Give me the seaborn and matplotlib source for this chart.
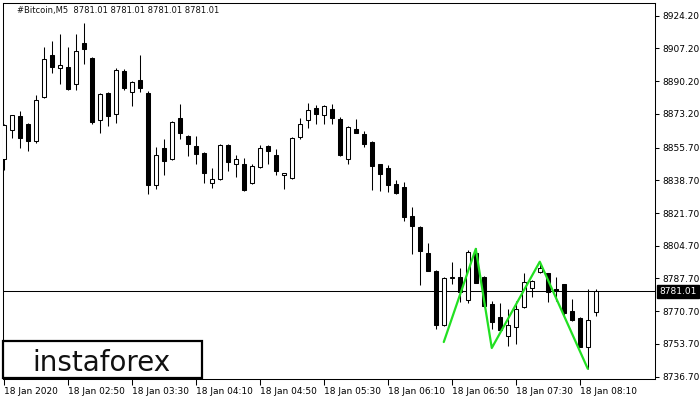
import matplotlib
matplotlib.use('Agg')
import matplotlib.pyplot as plt
from matplotlib.patches import Rectangle
import matplotlib.transforms as mtransforms
import numpy as np
import pandas as pd
import seaborn as sns

# M5 candles, 18 Jan 2020 02:10 .. 08:20
opens = [8849.5, 8865.0, 8872.2, 8868.1, 8859.3, 8882.0, 8903.6, 8896.9, 8897.4, 8888.6,
         8909.8, 8902.0, 8870.1, 8884.0, 8873.2, 8895.3, 8884.5, 8890.7, 8884.0, 8836.1,
         8855.7, 8849.5, 8871.1, 8861.9, 8856.7, 8853.1, 8837.1, 8839.2, 8857.2, 8847.4,
         8847.4, 8837.1, 8845.4, 8856.7, 8851.6, 8841.3, 8839.7, 8861.4, 8870.1, 8876.3,
         8872.7, 8875.8, 8870.6, 8850.0, 8865.5, 8862.9, 8858.8, 8846.9, 8844.9, 8836.6,
         8835.1, 8820.1, 8814.5, 8801.1, 8791.8, 8763.5, 8788.2, 8788.7, 8776.4, 8801.1,
         8788.7, 8774.3, 8767.6, 8757.8, 8762.4, 8772.7, 8782.5, 8791.3, 8790.3, 8782.0,
         8784.6, 8770.7, 8767.1, 8752.1, 8770.2]
highs = [8868.1, 8872.7, 8874.7, 8868.6, 8883.0, 8907.7, 8910.8, 8914.4, 8907.7, 8914.4,
         8920.6, 8902.6, 8884.0, 8884.5, 8897.0, 8896.5, 8890.0, 8903.6, 8885.0, 8856.2,
         8860.3, 8869.3, 8878.4, 8862.2, 8861.9, 8853.4, 8844.9, 8857.7, 8857.5, 8851.6,
         8850.5, 8847.4, 8857.2, 8857.0, 8854.7, 8842.5, 8861.4, 8871.1, 8878.9, 8877.8,
         8877.6, 8878.4, 8871.7, 8866.7, 8870.6, 8864.4, 8859.0, 8847.2, 8846.4, 8838.7,
         8837.7, 8824.8, 8814.7, 8806.2, 8792.0, 8788.7, 8796.4, 8793.4, 8802.6, 8803.7,
         8789.0, 8775.8, 8774.8, 8771.7, 8775.8, 8790.3, 8786.9, 8796.4, 8790.5, 8788.7,
         8784.9, 8776.9, 8767.6, 8782.0, 8782.0]
lows = [8843.8, 8860.8, 8855.2, 8854.1, 8858.3, 8881.5, 8894.3, 8888.6, 8885.8, 8885.5,
        8899.0, 8868.1, 8863.4, 8867.0, 8868.6, 8885.8, 8877.3, 8884.5, 8831.5, 8834.0,
        8841.3, 8849.2, 8860.3, 8851.1, 8847.4, 8837.1, 8834.6, 8838.9, 8843.3, 8840.2,
        8833.3, 8836.6, 8845.2, 8847.4, 8841.3, 8834.0, 8839.5, 8860.3, 8866.0, 8868.1,
        8868.1, 8868.1, 8851.3, 8847.4, 8863.2, 8856.2, 8833.5, 8833.0, 8832.5, 8831.5,
        8817.6, 8800.6, 8784.1, 8791.6, 8761.4, 8763.2, 8784.6, 8775.3, 8774.8, 8785.3,
        8772.8, 8761.4, 8760.6, 8752.6, 8753.7, 8772.5, 8777.9, 8790.8, 8775.3, 8775.8,
        8768.1, 8765.8, 8751.9, 8740.8, 8768.1]
closes = [8867.5, 8872.7, 8860.8, 8859.3, 8880.4, 8901.5, 8897.4, 8898.4, 8886.1, 8905.6,
          8906.7, 8869.1, 8883.5, 8872.2, 8895.9, 8886.6, 8889.7, 8886.6, 8836.1, 8851.6,
          8848.5, 8869.1, 8863.4, 8857.7, 8852.6, 8842.3, 8839.2, 8857.2, 8848.0, 8850.0,
          8833.5, 8845.9, 8855.7, 8854.1, 8843.3, 8842.3, 8860.8, 8868.1, 8875.3, 8873.2,
          8877.3, 8871.1, 8851.6, 8866.5, 8863.4, 8857.7, 8845.9, 8841.8, 8836.1, 8832.0,
          8819.6, 8815.0, 8802.1, 8791.8, 8763.5, 8787.7, 8788.7, 8780.5, 8801.6, 8785.6,
          8773.3, 8765.0, 8760.9, 8763.5, 8771.7, 8786.1, 8786.6, 8793.4, 8780.5, 8781.0,
          8769.7, 8766.0, 8752.1, 8766.0, 8781.01]

tick_bars = [0, 8, 16, 24, 32, 40, 48, 56, 64, 72]
tick_labels = ['18 Jan 2020', '18 Jan 02:50', '18 Jan 03:30', '18 Jan 04:10', '18 Jan 04:50',
               '18 Jan 05:30', '18 Jan 06:10', '18 Jan 06:50', '18 Jan 07:30', '18 Jan 08:10']
price_ticks = [8924.20, 8907.20, 8890.20, 8873.20, 8855.70, 8838.70,
               8821.70, 8804.70, 8787.70, 8770.70, 8753.70, 8736.70]

# triple-top / head-and-shoulders style pattern drawn by the analyst
pattern_bars = [55, 59, 61, 67, 73]
pattern_prices = [8754.7, 8803.1, 8751.6, 8796.4, 8740.8]

last_price = 8781.01

df = pd.DataFrame({'open': opens, 'high': highs, 'low': lows, 'close': closes})
df['bar'] = np.arange(len(df))
pat = pd.DataFrame({'bar': pattern_bars, 'price': pattern_prices})

sns.set_theme(style='white')
plt.rcParams['font.family'] = ['DejaVu Sans']

fig = plt.figure(figsize=(7, 4), dpi=100)
ax = fig.add_axes([2.5 / 700, 21 / 400, 652.5 / 700, 375.7 / 400])

lw = 0.75
bull = df['close'] >= df['open']
ax.vlines(df['bar'], df['low'], df['high'], color='black', lw=lw, zorder=2)
body_lo = np.minimum(df['open'], df['close'])
body_h = np.maximum(np.abs(df['close'] - df['open']), 0.4)
ax.bar(df['bar'][bull], body_h[bull], bottom=body_lo[bull], width=0.55,
       facecolor='white', edgecolor='black', lw=lw, zorder=3)
ax.bar(df['bar'][~bull], body_h[~bull], bottom=body_lo[~bull], width=0.55,
       facecolor='black', edgecolor='black', lw=lw, zorder=3)

ax.axhline(last_price, color='black', lw=lw, zorder=1)

sns.lineplot(data=pat, x='bar', y='price', sort=False, estimator=None,
             color='#22e022', lw=1.6, ax=ax, zorder=4)

ax.set_xlim(-0.15, 81.4)
ax.set_ylim(8735.5, 8930.6)
ax.set_xlabel('')
ax.set_ylabel('')

ax.yaxis.tick_right()
ax.set_yticks(price_ticks)
ax.set_yticklabels([f'{v:.2f}' for v in price_ticks])
ax.set_xticks(tick_bars)
ax.set_xticklabels(tick_labels, ha='left')
ax.tick_params(axis='y', which='both', right=True, left=False, length=3, width=lw,
               labelsize=6.5, pad=2, color='black', labelcolor='black')
ax.tick_params(axis='x', which='both', bottom=True, length=4, width=lw,
               labelsize=6.5, pad=1.5, color='black', labelcolor='black')
for s in ax.spines.values():
    s.set_color('black')
    s.set_linewidth(lw)
ax.grid(False)

# current price box on the price scale
trans = mtransforms.blended_transform_factory(ax.transAxes, ax.transData)
ax.text(1.006, last_price, '8781.01', transform=trans, ha='left', va='center',
        fontsize=6.5, color='white', clip_on=False,
        bbox=dict(boxstyle='square,pad=0.25', facecolor='black', edgecolor='black'))

fig.text(17 / 700, 1 - 10 / 400, '#Bitcoin,M5  8781.01 8781.01 8781.01 8781.01',
         fontsize=6, va='center', ha='left', color='#111111')

# logo box
logo = Rectangle((3 / 700, 22 / 400), 199 / 700, 37 / 400, transform=fig.transFigure,
                 facecolor='white', edgecolor='black', lw=1.6, zorder=10)
fig.add_artist(logo)
fig.text(101 / 700, 29 / 400, 'instaforex', fontsize=20, ha='center', va='baseline',
         color='#111111', zorder=11)

plt.savefig('out.png', dpi=100)
plt.close()
